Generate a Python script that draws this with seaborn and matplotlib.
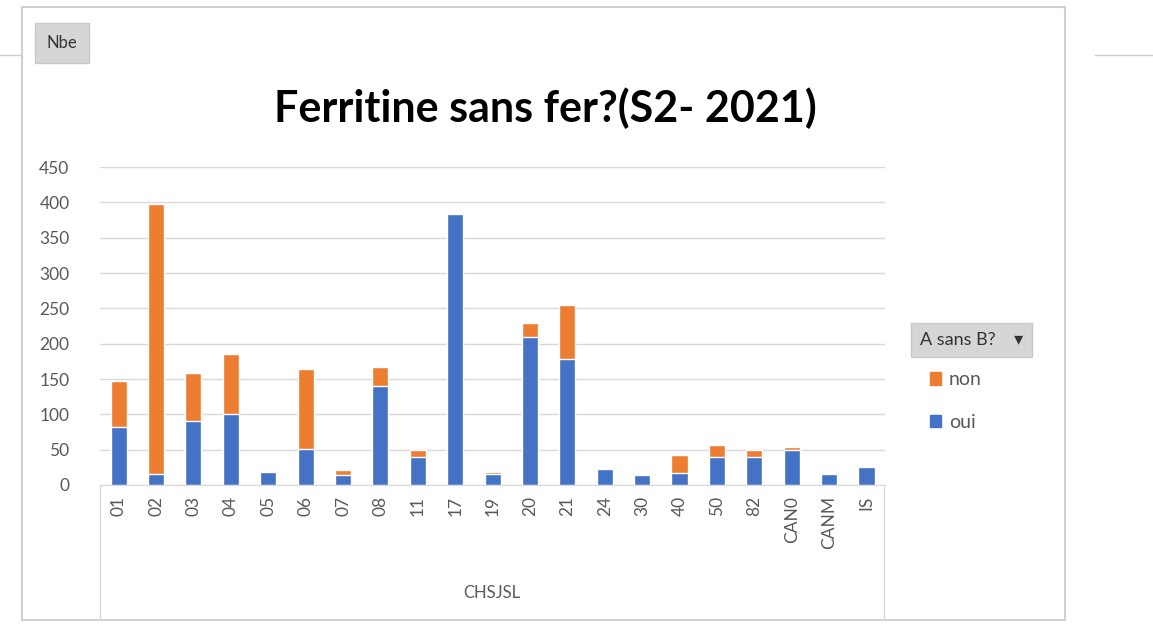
import matplotlib.pyplot as plt
import matplotlib.patches as mpatches
import seaborn as sns
import pandas as pd

# Data
categories = ['01', '02', '03', '04', '05', '06', '07', '08', '11', '17', '19',
              '20', '21', '24', '30', '40', '50', '82', 'CAN0', 'CANM', 'IS']
oui = [82, 15, 90, 101, 18, 51, 14, 140, 40, 384, 15, 210, 178, 23, 14, 17, 39, 39, 50, 15, 25]
non = [65, 383, 69, 84, 0, 113, 7, 27, 10, 0, 4, 19, 77, 0, 0, 26, 18, 10, 4, 0, 0]

df = pd.DataFrame({'CHSJSL': categories, 'oui': oui, 'non': non})
df['total'] = df['oui'] + df['non']

blue = '#4472C4'
orange = '#ED7D31'
grey_txt = '#595959'

sns.set_style('white')
plt.rcParams['font.family'] = ['Lato', 'DejaVu Sans']

fig = plt.figure(figsize=(11.53, 6.27), dpi=100)
ax = fig.add_axes([0.0867, 0.2265, 0.681, 0.507])

# stacked bars: total in orange, then "oui" drawn over it
sns.barplot(data=df, x='CHSJSL', y='total', color=orange, width=0.43,
            saturation=1, ax=ax)
sns.barplot(data=df, x='CHSJSL', y='oui', color=blue, width=0.43,
            saturation=1, ax=ax)

ax.set_ylim(0, 450)
ax.set_yticks(range(0, 451, 50))
ax.yaxis.grid(True, color='#d9d9d9', linewidth=1)
ax.set_axisbelow(True)
for s in ['top', 'right', 'left']:
    ax.spines[s].set_visible(False)
ax.spines['bottom'].set_color('#d9d9d9')
ax.tick_params(axis='y', colors=grey_txt, labelsize=12.5, length=0, pad=22)
ax.tick_params(axis='x', colors=grey_txt, labelsize=12.5, length=0, rotation=90, pad=8)
ax.set_xlabel('')
ax.set_ylabel('')
ax.set_xlim(-0.5, len(categories) - 0.5)

# title
fig.text(0.473, 0.827, 'Ferritine sans fer?(S2- 2021)', ha='center', va='center',
         fontsize=31, fontweight='bold', color='black')

# chart frame
fig.patches.append(mpatches.Rectangle((22 / 1153, 7 / 627), (1065 - 22) / 1153, (620 - 7) / 627,
                                      transform=fig.transFigure, fill=False,
                                      edgecolor='#d0d0d0', linewidth=1.5))
# category field box
fig.add_artist(plt.Line2D([100 / 1153, 100 / 1153], [7 / 627, 142 / 627],
                          transform=fig.transFigure, color='#d9d9d9', linewidth=1))
fig.add_artist(plt.Line2D([884 / 1153, 884 / 1153], [7 / 627, 142 / 627],
                          transform=fig.transFigure, color='#d9d9d9', linewidth=1))
fig.text(492 / 1153, 1 - 593 / 627, 'CHSJSL', ha='center', va='center',
         fontsize=12, color=grey_txt)

# pivot buttons
fig.text(47 / 1153, 1 - 43 / 627, 'Nbe', ha='left', va='center', fontsize=12,
         color='#333333',
         bbox=dict(boxstyle='square,pad=0.7', facecolor='#d6d6d6', edgecolor='#c8c8c8'))
fig.text(920 / 1153, 1 - 340 / 627, 'A sans B?    \u25be', ha='left', va='center',
         fontsize=13, color='#333333',
         bbox=dict(boxstyle='square,pad=0.5', facecolor='#d6d6d6', edgecolor='#c8c8c8'))

# legend
handles = [mpatches.Patch(color=orange, label='non'),
           mpatches.Patch(color=blue, label='oui')]
leg = fig.legend(handles=handles, loc='upper left', bbox_to_anchor=(912 / 1153, 1 - 354 / 627),
                 frameon=False, fontsize=14, handlelength=0.6, handleheight=0.6,
                 handletextpad=0.4, labelspacing=1.3)
for t in leg.get_texts():
    t.set_color(grey_txt)

# neighbouring clutter lines from the screenshot
fig.add_artist(plt.Line2D([0, 20 / 1153], [1 - 55 / 627] * 2, transform=fig.transFigure,
                          color='#cccccc', linewidth=1))
fig.add_artist(plt.Line2D([1095 / 1153, 1], [1 - 55 / 627] * 2, transform=fig.transFigure,
                          color='#cccccc', linewidth=1))

fig.savefig('out.png', dpi=100, facecolor='white')
